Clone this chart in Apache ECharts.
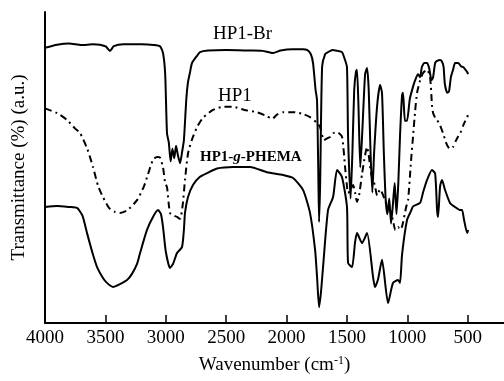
<!DOCTYPE html>
<html lang="en" style="height: 100%">
<head>
  <meta charset="utf-8">
</head>
<body style="height: 100%; margin: 0; background: #fff">
  <div id="container" style="height: 100%"></div>

  <script type="text/javascript" src="https://cdn.jsdelivr.net/npm/echarts@6/dist/echarts.min.js"></script>
  <script type="text/javascript">
// [wavenumber (cm-1), transmittance (a.u.)]
var seriesNames = ['HP1-Br', 'HP1', 'HP1-g-PHEMA'];
var xTicks = [4000, 3500, 3000, 2500, 2000, 1500, 1000, 500];

var hp1BrData = [
  [4000, 88.5], [3900, 89.5], [3800, 89.9], [3700, 89.4], [3600, 89.6], [3500, 89.0],
  [3462, 87.5], [3430, 89.0], [3350, 89.6], [3200, 89.6], [3100, 89.4], [3048, 89.0],
  [3023, 86.8], [3005, 80], [2990, 61], [2975, 58], [2960, 52], [2945, 56], [2930, 53],
  [2915, 57], [2900, 54], [2882, 51.4], [2865, 55], [2850, 58.8], [2830, 72], [2816, 77.5],
  [2800, 80.5], [2783, 83.6], [2740, 86], [2717, 87.1], [2650, 87.6], [2500, 87.8],
  [2300, 87.6], [2200, 87.5], [2112, 86.8], [2050, 87.6], [1950, 88], [1864, 88],
  [1831, 87.8], [1800, 86.5], [1781, 83.6], [1760, 75], [1748, 71.7], [1738, 50],
  [1731, 32.5], [1722, 45], [1706, 82.3], [1680, 86.5], [1657, 87.1], [1620, 87.8],
  [1580, 87.5], [1541, 87.1], [1520, 85], [1500, 82.3], [1491, 60], [1470, 40],
  [1455, 55], [1440, 75], [1425, 81], [1417, 81.4], [1405, 70], [1390, 50], [1375, 60],
  [1350, 80], [1334, 82], [1320, 75], [1305, 55], [1290, 42], [1275, 55], [1250, 70],
  [1226, 76.5], [1210, 74], [1195, 55], [1180, 40], [1165, 35], [1150, 40], [1135, 32],
  [1120, 38], [1105, 45], [1090, 35], [1075, 45], [1061, 60], [1044, 73.3], [1036, 74],
  [1020, 65], [1003, 65], [980, 72], [953, 76], [936, 78], [912, 80], [895, 79],
  [880, 82.3], [860, 83.6], [837, 83.6], [820, 82], [800, 78.1], [787, 79], [770, 83.6],
  [754, 84.3], [729, 84.6], [713, 84], [700, 82.3], [690, 77], [670, 74], [655, 74.5],
  [640, 79], [622, 81.4], [605, 83.6], [580, 83.6], [555, 82.5], [538, 82.3], [520, 81.5],
  [505, 80.7], [497, 80]
];

var hp1Data = [
  [4000, 69], [3900, 67.5], [3818, 65.3], [3750, 62.5], [3710, 61.1], [3650, 56],
  [3603, 50.2], [3560, 44], [3520, 40.5], [3470, 37], [3420, 35.7], [3379, 35.4],
  [3320, 36.2], [3238, 39.5], [3180, 44], [3155, 46.9], [3106, 52.5], [3073, 53.4],
  [3048, 53.2], [3023, 50], [3005, 45], [2990, 43.7], [2965, 35.4], [2930, 34.5],
  [2907, 34.1], [2882, 33.5], [2860, 38], [2841, 46], [2816, 54.5], [2783, 59],
  [2741, 63], [2692, 66], [2609, 68.5], [2526, 69.5], [2443, 69.5], [2350, 68.5],
  [2250, 67.8], [2162, 66.5], [2120, 65.6], [2080, 67], [2029, 67.8], [1946, 67.8],
  [1864, 67.2], [1806, 66.2], [1748, 64.3], [1723, 63.0], [1690, 58.8], [1657, 59.5],
  [1640, 59.8], [1615, 61], [1582, 61.4], [1541, 59.8], [1516, 50.2], [1500, 44],
  [1491, 41.8], [1475, 42.5], [1450, 44.4], [1433, 42], [1417, 39], [1400, 41],
  [1375, 48], [1350, 54], [1334, 56.6], [1320, 54], [1300, 48], [1270, 44.4],
  [1250, 41], [1226, 43], [1200, 41], [1170, 38], [1140, 36], [1119, 33], [1100, 29.9],
  [1077, 30.9], [1061, 30], [1044, 31], [1010, 37.3], [994, 39.5], [970, 52], [953, 60],
  [936, 68], [920, 74], [895, 78], [870, 80.4], [837, 81.4], [812, 79], [796, 70],
  [787, 67.5], [770, 66], [754, 65.3], [729, 63.5], [704, 61], [680, 58], [660, 56.5],
  [640, 56], [622, 56.6], [600, 58.5], [580, 60], [560, 61.2], [538, 63.5], [520, 65],
  [505, 66], [497, 67.5]
];

var phemaData = [
  [4000, 37.3], [3900, 37.6], [3800, 37.3], [3735, 37], [3690, 34.5], [3652, 28.9],
  [3603, 22], [3569, 18], [3520, 14.5], [3487, 12.9], [3437, 11.6], [3380, 12.5],
  [3321, 13.8], [3280, 15.8], [3238, 19], [3213, 22.5], [3155, 30], [3106, 34.1],
  [3064, 36.3], [3040, 35], [3023, 30.9], [3000, 23], [2965, 17.7], [2940, 19],
  [2907, 22.5], [2866, 24.4], [2850, 30], [2841, 35.4], [2816, 40.5], [2775, 44.4],
  [2717, 47], [2659, 48.2], [2576, 49.7], [2443, 50.2], [2303, 50.2], [2162, 48.5],
  [2029, 47.6], [1946, 46.6], [1864, 42.8], [1806, 35.4], [1764, 23.5], [1748, 15],
  [1731, 5.1], [1715, 10], [1698, 18], [1657, 36.3], [1615, 40.5], [1582, 49.2],
  [1541, 46.9], [1500, 37.3], [1491, 19.3], [1458, 18], [1433, 26], [1417, 28.9],
  [1375, 25.7], [1334, 28.9], [1284, 14.8], [1268, 11.6], [1243, 14], [1210, 20.3],
  [1160, 6.4], [1119, 12.9], [1077, 13.8], [1061, 12.9], [1044, 22], [1003, 33.1],
  [970, 36], [953, 37.5], [895, 38.6], [870, 42], [837, 46], [796, 49.2], [770, 48],
  [754, 36.3], [746, 34.1], [729, 44], [713, 46], [690, 43], [647, 38.6], [605, 37.3],
  [563, 36.3], [547, 36.3], [530, 33], [505, 28.9], [497, 29.9]
];

var seriesData = [hp1BrData, hp1Data, phemaData];
var lineDashes = ['solid', [7, 4, 2, 4], 'solid'];

var dom = document.getElementById('container');
var myChart = echarts.init(dom, null, { renderer: 'canvas' });

var serif = '"Liberation Serif", "DejaVu Serif", serif';

var option = {
  backgroundColor: '#fff',
  animation: false,
  grid: { left: 45, right: 0, top: 12, bottom: 58, outerBoundsMode: 'none', containLabel: false },
  xAxis: {
    type: 'value',
    inverse: true,
    min: 200,
    max: 4000,
    name: 'Wavenumber (cm{sup|-1})',
    nameLocation: 'middle',
    nameGap: 32,
    nameTextStyle: {
      color: '#000', fontFamily: serif, fontSize: 19,
      rich: { sup: { fontSize: 12, fontFamily: serif, color: '#000', padding: [0, 0, 9, 0] } }
    },
    axisLine: { onZero: false, lineStyle: { color: '#000', width: 2 } },
    axisTick: { inside: true, length: 8, customValues: xTicks, lineStyle: { color: '#000', width: 1.5 } },
    axisLabel: {
      color: '#000', fontFamily: serif, fontSize: 19, margin: 6, customValues: xTicks,
      formatter: function (v) { return String(v); }
    },
    splitLine: { show: false }
  },
  yAxis: {
    type: 'value',
    position: 'left',
    min: 0,
    max: 100,
    name: 'Transmittance (%) (a.u.)',
    nameLocation: 'middle',
    nameGap: 16,
    nameTextStyle: { color: '#000', fontFamily: serif, fontSize: 19 },
    axisLine: { show: true, onZero: false, lineStyle: { color: '#000', width: 2 } },
    axisTick: { show: false },
    axisLabel: { show: false },
    splitLine: { show: false }
  },
  series: seriesNames.map(function (name, i) {
    return {
      name: name,
      type: 'line',
      data: seriesData[i],
      showSymbol: false,
      smooth: 0.2,
      lineStyle: { color: '#000', width: 2, type: lineDashes[i] }
    };
  }),
  graphic: [
    { type: 'text', left: 213, top: 25, style: { text: 'HP1-Br', font: '19px ' + serif, fill: '#000' } },
    { type: 'text', left: 218, top: 87, style: { text: 'HP1', font: '19px ' + serif, fill: '#000' } },
    {
      type: 'text', left: 200, top: 150,
      style: {
        text: 'HP1-{i|g}-PHEMA', fill: '#000', font: 'bold 15px ' + serif,
        rich: { i: { fontStyle: 'italic', fontWeight: 'bold', fontSize: 15, fontFamily: serif } }
      }
    }
  ]
};

myChart.setOption(option);
window.addEventListener('resize', myChart.resize);
  </script>
</body>
</html>
